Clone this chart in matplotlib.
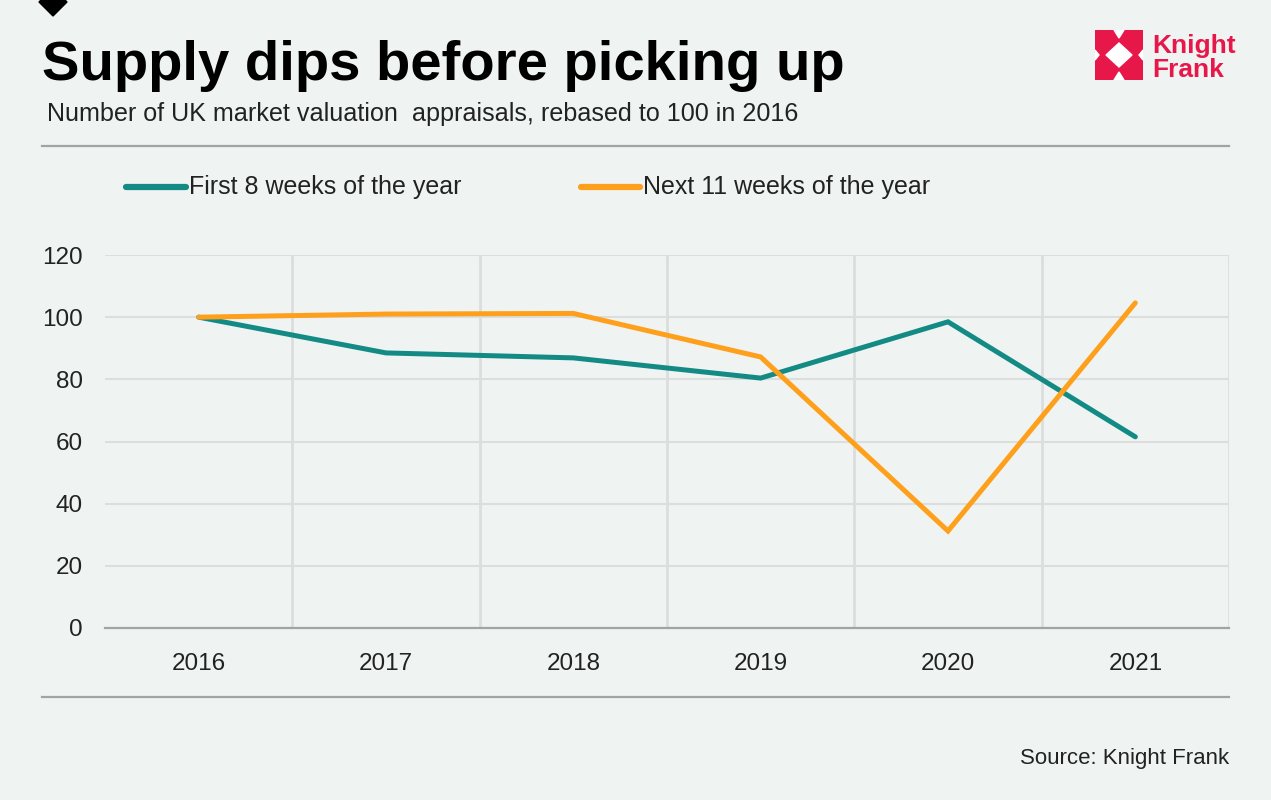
import matplotlib
matplotlib.use('Agg')
import matplotlib.pyplot as plt
from matplotlib.lines import Line2D
from matplotlib.patches import Polygon, Rectangle
import numpy as np

plt.rcParams['font.family'] = ['Liberation Sans', 'DejaVu Sans']

# data
years = ['2016', '2017', '2018', '2019', '2020', '2021']
first_8_weeks = [100, 88.5, 86.9, 80.4, 98.5, 61.5]
next_11_weeks = [100, 101.0, 101.2, 87.2, 31.2, 104.6]
series_names = ['First 8 weeks of the year', 'Next 11 weeks of the year']
y_ticks = [0, 20, 40, 60, 80, 100, 120]

W, H = 1271, 800
BG = '#eff4f3'
TEAL = '#138b84'
ORANGE = '#ffa01c'
RED = '#e8174a'
GRID = '#dcdedd'

def fx(px): return px / W
def fy(py): return 1 - py / H

fig = plt.figure(figsize=(W / 100, H / 100), dpi=100, facecolor=BG)

ax = fig.add_axes([fx(105), fy(628), fx(1229) - fx(105), fy(255) - fy(628)])
ax.set_facecolor(BG)
x = np.arange(len(years))
ax.plot(x, first_8_weeks, color=TEAL, lw=3.6, solid_capstyle='round', solid_joinstyle='miter', zorder=3)
ax.plot(x, next_11_weeks, color=ORANGE, lw=3.6, solid_capstyle='round', solid_joinstyle='miter', zorder=4)

ax.set_xlim(-0.5, len(years) - 0.5)
ax.set_ylim(0, 120)
ax.set_xticks(x)
ax.set_xticklabels(years)
ax.set_yticks(y_ticks)
ax.set_xticks(np.arange(len(years)) + 0.5, minor=True)
ax.tick_params(axis='both', which='both', length=0, labelsize=17.5, colors='#222222')
ax.tick_params(axis='y', pad=16)
ax.tick_params(axis='x', pad=18)
ax.grid(axis='y', which='major', color=GRID, lw=1.5)
ax.grid(axis='x', which='minor', color=GRID, lw=2)
ax.grid(axis='x', which='major', visible=False)
ax.set_axisbelow(True)
for s in ['top', 'right', 'left']:
    ax.spines[s].set_visible(False)
ax.spines['bottom'].set_color('#a3a3a3')
ax.spines['bottom'].set_linewidth(1.6)

# titles
fig.text(fx(42), fy(80), 'Supply dips before picking up', fontsize=40.5, fontweight='bold',
         color='#000000', va='baseline', ha='left')
fig.text(fx(47), fy(121), 'Number of UK market valuation  appraisals, rebased to 100 in 2016',
         fontsize=18.1, color='#222222', va='baseline', ha='left')

# rules
for yy in [146, 697]:
    fig.add_artist(Line2D([fx(42), fx(1229)], [fy(yy), fy(yy)], color='#a3a3a3', lw=1.6))

# legend
leg = [(126, 186, TEAL, series_names[0]), (581, 640, ORANGE, series_names[1])]
for x0, x1, c, name in leg:
    fig.add_artist(Line2D([fx(x0), fx(x1)], [fy(187), fy(187)], color=c, lw=4.5, solid_capstyle='round'))
    fig.text(fx(x1 + 3), fy(187), name, fontsize=18, color='#222222', va='center', ha='left')

# source
fig.text(fx(1229), fy(764), 'Source: Knight Frank', fontsize=16, color='#222222',
         va='baseline', ha='right')

# diamond at top left, cut by the top edge
fig.add_artist(Polygon([[fx(39), fy(2)], [fx(53), fy(-12)], [fx(67), fy(2)], [fx(53), fy(16)]],
                       closed=True, transform=fig.transFigure, color='black'))

# logo
lax = fig.add_axes([fx(1095), fy(80), fx(1143) - fx(1095), fy(30) - fy(80)])
lax.set_xlim(0, 48)
lax.set_ylim(0, 50)
lax.axis('off')
lax.add_patch(Rectangle((0, 0), 48, 50, color=RED))
lax.add_patch(Polygon([[24, 37], [37, 25], [24, 13], [11, 25]], color='white'))
lax.add_patch(Polygon([[19, 50], [24, 42], [29, 50]], color='white'))
lax.add_patch(Polygon([[19, 0], [24, 8], [29, 0]], color='white'))
lax.add_patch(Polygon([[0, 30], [4, 25], [0, 20]], color='white'))
lax.add_patch(Polygon([[48, 30], [44, 25], [48, 20]], color='white'))
fig.text(fx(1152), fy(53), 'Knight', fontsize=19, fontweight='bold', color=RED, va='baseline', ha='left')
fig.text(fx(1152), fy(77), 'Frank', fontsize=19, fontweight='bold', color=RED, va='baseline', ha='left')

fig.savefig('out.png', dpi=100, facecolor=BG)
